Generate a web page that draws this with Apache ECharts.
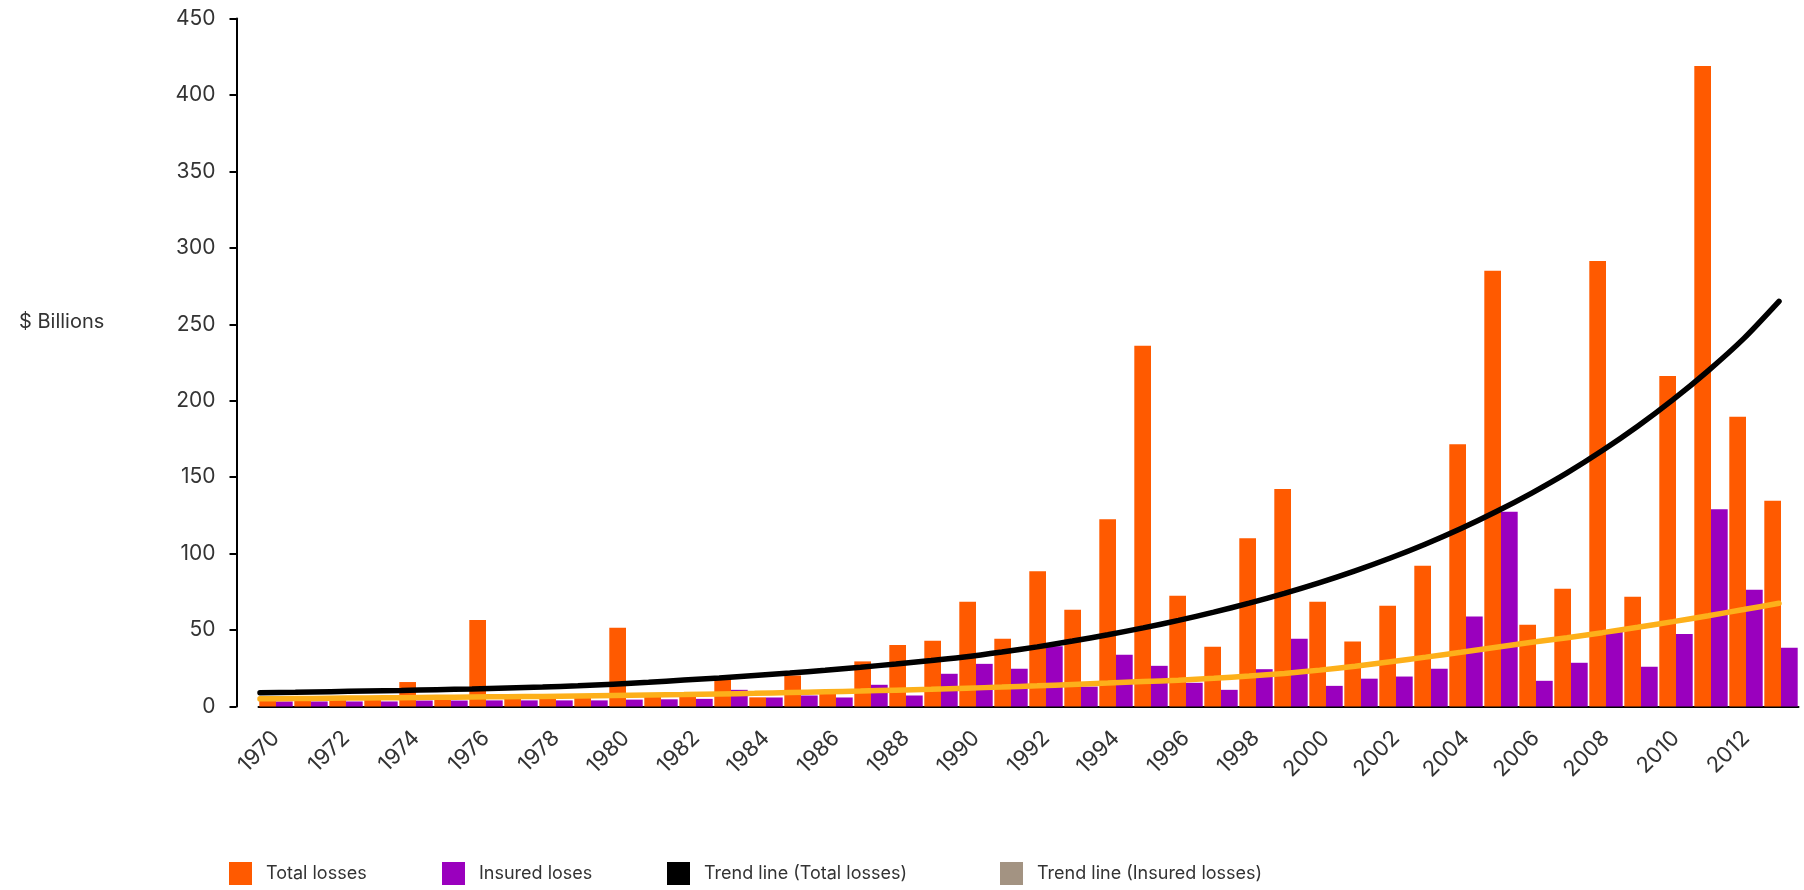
<!DOCTYPE html>
<html>
<head>
<meta charset="utf-8">
<title>Losses</title>
<script src="https://cdn.jsdelivr.net/npm/echarts@6/dist/echarts.min.js"></script>
<style>
  html, body { margin: 0; padding: 0; background: #fff; }
  #main { width: 1804px; height: 890px; }
</style>
</head>
<body>
<div id="main"></div>
<script>
var years = ['1970', '1971', '1972', '1973', '1974', '1975', '1976', '1977', '1978', '1979',
    '1980', '1981', '1982', '1983', '1984', '1985', '1986', '1987', '1988', '1989',
    '1990', '1991', '1992', '1993', '1994', '1995', '1996', '1997', '1998', '1999',
    '2000', '2001', '2002', '2003', '2004', '2005', '2006', '2007', '2008', '2009',
    '2010', '2011', '2012', '2013'];

// $ billions
var totalLosses = [4.5, 4.5, 5, 5, 16, 5.5, 56.5, 5.5, 6, 6,
    51.5, 7, 7, 17.5, 6, 20.3, 9, 29.5, 40.3, 43,
    68.5, 44.3, 88.5, 63.2, 122.5, 236, 72.4, 39, 110, 142.2,
    68.5, 42.5, 65.9, 92, 171.5, 285, 53.5, 77, 291.4, 71.8,
    216.2, 419, 189.5, 134.5];

var insuredLosses = [3.3, 3.3, 3.3, 3.3, 3.9, 3.9, 4, 4, 4, 4,
    4.5, 4.7, 5, 10.9, 5.9, 7.2, 5.9, 14.2, 7.2, 21.4,
    27.9, 24.7, 39.4, 13, 33.8, 26.6, 15.5, 10.9, 24.4, 44.3,
    13.5, 18.2, 19.6, 24.7, 58.8, 127.3, 16.8, 28.6, 50.1, 26,
    47.5, 129, 76.4, 38.4];

var trendTotal = [9.0, 9.3, 9.7, 10.1, 10.5, 11.0, 11.5, 12.1, 12.7, 13.5,
    14.6, 15.8, 17.3, 18.7, 20.3, 21.9, 23.7, 25.7, 27.8, 30.1,
    32.5, 35.6, 39.0, 42.8, 46.9, 51.4, 56.3, 61.7, 67.6, 74.0,
    81.0, 88.7, 97.1, 106.3, 116.4, 127.5, 139.6, 152.8, 167.4, 183.3,
    200.7, 219.7, 240.6, 265];

var trendInsured = [5.0, 5.2, 5.4, 5.6, 5.8, 6.0, 6.2, 6.4, 6.6, 6.9,
    7.2, 7.5, 7.8, 8.2, 8.6, 9.1, 9.6, 10.1, 10.7, 11.3,
    12.0, 12.7, 13.5, 14.4, 15.3, 16.3, 17.2, 18.5, 19.9, 21.6,
    23.8, 26.3, 29.3, 32.3, 35.5, 38.8, 42.0, 45.0, 48.3, 51.8,
    55.5, 59.4, 63.4, 67.5];

var font = 'Inter';
var textColor = '#333';

function legendAt(left, name, color) {
    return {
        left: left,
        top: 862,
        padding: 0,
        icon: 'rect',
        itemWidth: 23,
        itemHeight: 23,
        selectedMode: false,
        textStyle: {
            fontFamily: font,
            fontSize: 18,
            color: textColor,
            padding: [0, 0, 0, 9]
        },
        data: [{name: name, itemStyle: {color: color}}]
    };
}

var myChart = echarts.init(document.getElementById('main'));
var option = {
    backgroundColor: '#fff',
    animation: false,
    title: {
        text: '$ Billions',
        left: 19,
        top: 312,
        padding: 0,
        textStyle: {
            fontFamily: font,
            fontSize: 20,
            fontWeight: 'normal',
            color: textColor
        }
    },
    legend: [
        legendAt(229, 'Total losses', '#FF5A00'),
        legendAt(442, 'Insured loses', '#9A00BE'),
        legendAt(667, 'Trend line (Total losses)', '#000000'),
        legendAt(1000, 'Trend line (Insured losses)', '#A39382')
    ],
    grid: [
        {left: 258.5, right: 5.5, top: 18.5, bottom: 183.5},
        {left: 260, right: 25, top: 18.5, bottom: 183.5}
    ],
    xAxis: [
        {
            type: 'category',
            gridIndex: 0,
            data: years,
            boundaryGap: true,
            offset: 11,
            axisLine: {show: true, lineStyle: {color: '#000', width: 2}},
            axisTick: {show: false},
            axisLabel: {
                interval: 1,
                rotate: 45,
                margin: 17,
                fontFamily: font,
                fontSize: 22,
                color: textColor
            },
            splitLine: {show: false}
        },
        {
            type: 'category',
            gridIndex: 1,
            data: years,
            boundaryGap: false,
            show: false
        }
    ],
    yAxis: [
        {
            type: 'value',
            gridIndex: 0,
            min: 0,
            max: 450,
            interval: 50,
            offset: 22,
            axisLine: {show: true, lineStyle: {color: '#000', width: 2}},
            axisTick: {show: true, length: 7, lineStyle: {color: '#000', width: 2}},
            axisLabel: {
                margin: 21,
                fontFamily: font,
                fontSize: 21,
                color: textColor
            },
            splitLine: {show: false}
        },
        {
            type: 'value',
            gridIndex: 1,
            min: 0,
            max: 450,
            show: false
        }
    ],
    series: [
        {
            name: 'Total losses',
            type: 'bar',
            xAxisIndex: 0,
            yAxisIndex: 0,
            barGap: 0,
            barCategoryGap: '4.6%',
            itemStyle: {color: '#FF5A00'},
            data: totalLosses
        },
        {
            name: 'Insured loses',
            type: 'bar',
            xAxisIndex: 0,
            yAxisIndex: 0,
            itemStyle: {color: '#9A00BE'},
            data: insuredLosses
        },
        {
            name: 'Trend line (Total losses)',
            type: 'line',
            xAxisIndex: 1,
            yAxisIndex: 1,
            smooth: 0.25,
            showSymbol: false,
            z: 3,
            lineStyle: {color: '#000', width: 5.5, cap: 'round'},
            itemStyle: {color: '#000'},
            data: trendTotal
        },
        {
            name: 'Trend line (Insured losses)',
            type: 'line',
            xAxisIndex: 1,
            yAxisIndex: 1,
            smooth: 0.25,
            showSymbol: false,
            z: 4,
            lineStyle: {color: '#FDB01A', width: 5.5, cap: 'round'},
            itemStyle: {color: '#FDB01A'},
            data: trendInsured
        }
    ]
};
myChart.setOption(option);
window.onresize = myChart.resize;
</script>
</body>
</html>
